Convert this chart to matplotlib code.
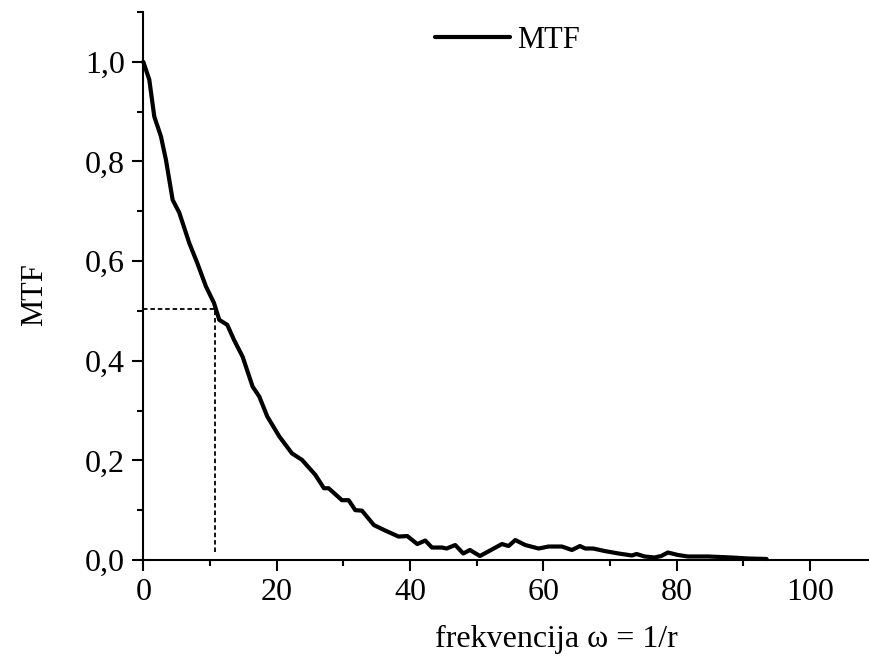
import matplotlib
matplotlib.use("Agg")
import matplotlib.pyplot as plt
from matplotlib.ticker import MultipleLocator, FixedLocator, FixedFormatter

plt.rcParams['font.family'] = ['Liberation Serif', 'DejaVu Serif']

# MTF curve
freq = [0, 0.9, 1.65, 2.65, 3.4, 4.4, 5.4, 6.9, 8.1, 9.4, 10.6, 11.4, 12.6, 13.6,
        14.9, 16.4, 17.4, 18.6, 20.4, 22.3, 23.8, 25.8, 27.1, 27.8, 29.8, 30.8,
        31.8, 32.8, 34.6, 36.3, 38.3, 39.6, 41.1, 42.3, 43.3, 44.8, 45.5, 46.8,
        48.0, 49.0, 50.5, 52.3, 53.8, 54.8, 55.8, 57.3, 59.3, 60.8, 62.8, 64.3,
        65.5, 66.3, 67.5, 69.2, 71.3, 73.3, 74.0, 75.2, 76.7, 77.7, 78.7, 80.2,
        81.7, 84.7, 88.2, 90.7, 93.5]
mtf = [1.0, 0.964, 0.89, 0.85, 0.803, 0.723, 0.697, 0.636, 0.596, 0.549, 0.516,
       0.482, 0.472, 0.442, 0.408, 0.348, 0.328, 0.288, 0.248, 0.214, 0.201, 0.171,
       0.144, 0.144, 0.12, 0.12, 0.10, 0.099, 0.07, 0.059, 0.047, 0.048, 0.032,
       0.039, 0.025, 0.025, 0.023, 0.030, 0.013, 0.020, 0.008, 0.021, 0.032, 0.028,
       0.040, 0.030, 0.023, 0.027, 0.027, 0.020, 0.028, 0.023, 0.023, 0.018, 0.013,
       0.009, 0.012, 0.007, 0.005, 0.008, 0.015, 0.010, 0.007, 0.007, 0.005, 0.003,
       0.002]

# MTF50 marker
mtf50_freq = 10.8
mtf50_val = 0.503
mtf50_low = 0.017

xticks = [0, 20, 40, 60, 80, 100]
xtick_labels = ['0', '20', '40', '60', '80', '100']
yticks = [0.0, 0.2, 0.4, 0.6, 0.8, 1.0]
ytick_labels = ['0,0', '0,2', '0,4', '0,6', '0,8', '1,0']

fig = plt.figure(figsize=(8.69, 6.66), dpi=100)
ax = fig.add_axes([0.1649, 0.1592, 0.8438, 0.8228])

ax.plot([0, mtf50_freq], [mtf50_val, mtf50_val], color='black', lw=1.3,
        dashes=(2.5, 1.6))
ax.plot([mtf50_freq, mtf50_freq], [mtf50_low, mtf50_val], color='black', lw=1.3,
        dashes=(2.5, 1.6))
ax.plot(freq, mtf, color='black', lw=3.0, label='MTF', solid_joinstyle='round',
        solid_capstyle='round', clip_on=False, zorder=3)

ax.set_xlim(0, 110)
ax.set_ylim(0, 1.1)

ax.xaxis.set_major_locator(FixedLocator(xticks))
ax.xaxis.set_major_formatter(FixedFormatter(xtick_labels))
ax.xaxis.set_minor_locator(MultipleLocator(10))
ax.yaxis.set_major_locator(FixedLocator(yticks))
ax.yaxis.set_major_formatter(FixedFormatter(ytick_labels))
ax.yaxis.set_minor_locator(MultipleLocator(0.1))

for s in ['top', 'right']:
    ax.spines[s].set_visible(False)
for s in ['left', 'bottom']:
    ax.spines[s].set_linewidth(1.5)

ax.tick_params(which='major', direction='out', length=8, width=1.5,
               labelsize=23, pad=5)
ax.tick_params(which='minor', direction='out', length=4.5, width=1.5)
ax.tick_params(axis='x', which='major', pad=5)

ax.set_xlabel('frekvencija ω = 1/r', fontsize=23)
ax.xaxis.set_label_coords(0.5635, -0.146)
ax.xaxis.label.set_verticalalignment('center')
ax.set_ylabel('MTF', fontsize=22)
ax.yaxis.set_label_coords(-0.1477, 0.4836)
ax.yaxis.label.set_verticalalignment('center')

ax.legend(loc='center left', bbox_to_anchor=(435 / 869, 1 - 40 / 666),
          bbox_transform=fig.transFigure, frameon=False, fontsize=22,
          handlelength=2.45, handletextpad=0.25, borderpad=0, borderaxespad=0)

fig.savefig('out.png', dpi=100)
